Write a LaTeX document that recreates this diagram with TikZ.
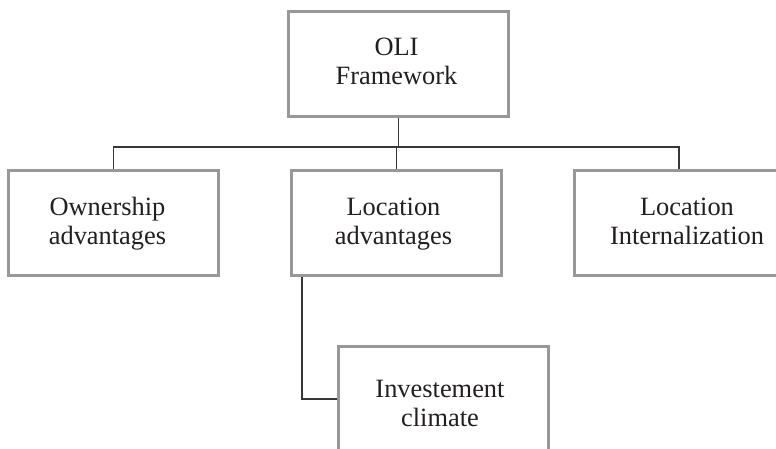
\documentclass[tikz,border=0pt]{standalone}
\usepackage{fontspec}
\setmainfont{Liberation Serif}
\definecolor{boxgray}{RGB}{152,152,155}
\definecolor{linegray}{RGB}{55,55,55}
\definecolor{txt}{RGB}{35,31,32}
\tikzset{
  box/.style={draw=boxgray, line width=3pt, fill=white, minimum width=210pt, minimum height=105pt,
    inner sep=0pt},
  lbl/.style={inner sep=0pt, align=center, text=txt, font=\fontsize{26.4}{29}\selectfont},
  conn/.style={draw=linegray, line width=1.1pt}
}
\begin{document}
\begin{tikzpicture}[x=1pt,y=-1pt]
\useasboundingbox (0,0) rectangle (776,448);
\clip (0,0) rectangle (776,448);
\node[box, minimum width=220pt] (oli) at (398.5,64) {};
\node[box] (own) at (113.75,223) {};
\node[box] (loc) at (396.5,223) {};
\node[box] (rt) at (679,223) {};
\node[box] (inv) at (443.5,399) {};
\node[lbl] (olit) at (396.5,64) {\strut OLI\\Framework\strut};
\node[lbl] (ownt) at (107.5,223.7) {\strut Ownership\\advantages\strut};
\node[lbl] (loct) at (393.5,223.7) {\strut Location\\advantages\strut};
\node[lbl] (rtt) at (687,223.7) {\strut Location\\Internalization\strut};
\node[lbl] (invt) at (440,405.7) {\strut Investement\\climate\strut};
\coordinate (bus) at (0,147);
\draw[conn] (own.north) -- (own.north |- bus) -| (rt.north);
\draw[conn] (oli.south) -- (oli.south |- bus);
\draw[conn] (loc.north) -- (loc.north |- bus);
\draw[conn] ([xshift=12pt]loc.south west) |- (inv.west);
\end{tikzpicture}
\end{document}
